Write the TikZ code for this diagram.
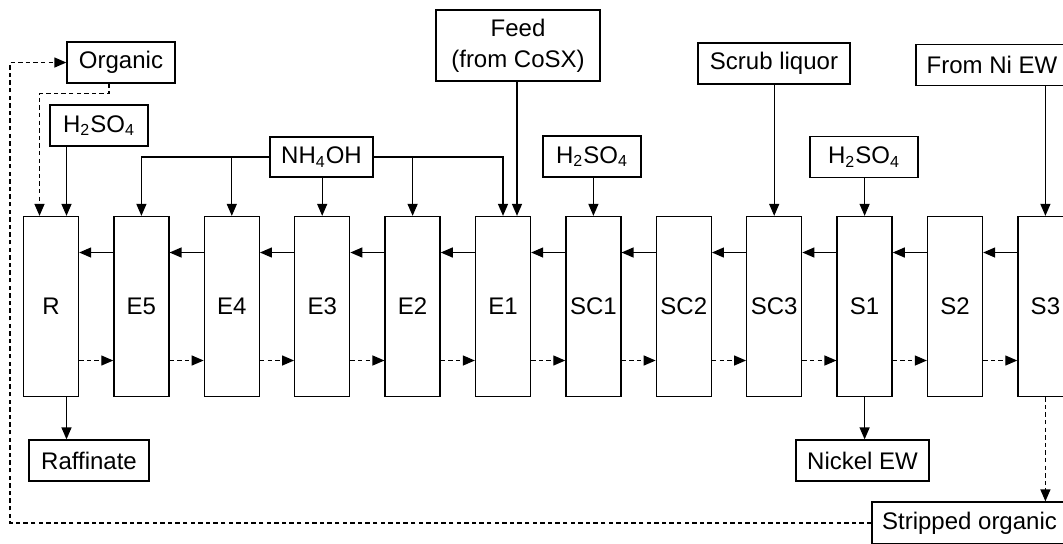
\documentclass[tikz,border=0pt]{standalone}
\usepackage{fontspec}
\setmainfont{Liberation Sans}
\usetikzlibrary{arrows.meta,calc}
\begin{document}
\begin{tikzpicture}[x=0.5pt,y=-0.5pt, line width=0.65pt,
  every node/.style={font=\fontsize{12}{15.5}\selectfont},
  box/.style={draw, inner sep=0pt, minimum height=20.5pt},
  stage/.style={draw, minimum width=27.5pt, minimum height=90pt, inner sep=0pt},
  arr/.style={-{Triangle[length=6pt,width=5pt]}},
  dsh/.style={dash pattern=on 2.2pt off 1.6pt}]
\useasboundingbox (0,0) rectangle (1063,543);
% stages
\foreach \n [count=\i from 0] in {R,E5,E4,E3,E2,E1,SC1,SC2,SC3,S1,S2,S3}
  \node[stage] (\n) at ({51+90.4*\i},306.5) {\n};
% aqueous (solid, leftwards) and organic (dashed, rightwards)
\foreach \a/\b in {E5/R,E4/E5,E3/E4,E2/E3,E1/E2,SC1/E1,SC2/SC1,SC3/SC2,S1/SC3,S2/S1,S3/S2}{
  \draw[arr] ($(\a.west)+(0,-54)$) -- ($(\b.east)+(0,-54)$);
  \draw[arr,dsh] ($(\b.east)+(0,54)$) -- ($(\a.west)+(0,54)$);
}
% feed boxes
\node[box, minimum width=54pt] (org) at (121,62.5) {Organic};
\node[box, minimum width=49pt] (h1) at (99,125.5) {H\textsubscript{2}SO\textsubscript{4}};
\node[box, minimum width=51.5pt, minimum height=20pt] (nh) at (321.5,157) {NH\textsubscript{4}OH};
\node[box, minimum width=82pt, minimum height=35.5pt, align=center] (feed) at (518,45.5) {Feed\\(from CoSX)};
\node[box, minimum width=49pt] (h2) at (592,156.5) {H\textsubscript{2}SO\textsubscript{4}};
\node[box, minimum width=76pt] (scrub) at (774,63.5) {Scrub liquor};
\node[box, minimum width=54pt] (h3) at (864,157) {H\textsubscript{2}SO\textsubscript{4}};
\node[box, minimum width=76pt] (niew) at (992,65) {From Ni EW};
\node[box, minimum width=60pt] (raf) at (89,460.5) {Raffinate};
\node[box, minimum width=66.5pt] (nickel) at (862.5,460.5) {Nickel EW};
\node[box, minimum width=97.5pt, minimum height=21pt] (strip) at (969.5,523) {Stripped organic};
% helper coordinates
\coordinate (rin1) at ($(R.north)+(-11.5,0)$);
\coordinate (rin2) at ($(R.north)+(15.5,0)$);
\coordinate (rout) at ($(R.south)+(15.5,0)$);
\coordinate (e1in) at ($(E1.north)+(14,0)$);
\coordinate (loopx) at (10,0);
% inputs
\draw[arr] (h1.south -| rin2) -- (rin2);
\draw[arr,dsh] ($(org.south)+(-12,0)$) -- ++(0,10) -| (rin1);
\draw[arr] (nh.west) -| (E5.north);
\draw[arr] (nh.west -| E4.north) -- (E4.north);
\draw[arr] (nh.south -| E3.north) -- (E3.north);
\draw[arr] (nh.east -| E2.north) -- (E2.north);
\draw[arr] (nh.east) -| (E1.north);
\draw[arr] (feed.south -| e1in) -- (e1in);
\draw[arr] (h2.south -| SC1.north) -- (SC1.north);
\draw[arr] (scrub.south -| SC3.north) -- (SC3.north);
\draw[arr] (h3.south -| S1.north) -- (S1.north);
\draw[arr] (niew.south -| S3.north) -- (S3.north);
% outputs
\draw[arr] (rout) -- (raf.north -| rout);
\draw[arr] (S1.south) -- (nickel.north -| S1.south);
\draw[arr,dsh] (S3.south) -- (strip.north -| S3.south);
\draw[arr,dsh] (strip.west) -- (strip.west -| loopx) -- (org.west -| loopx) -- (org.west);
\end{tikzpicture}
\end{document}
